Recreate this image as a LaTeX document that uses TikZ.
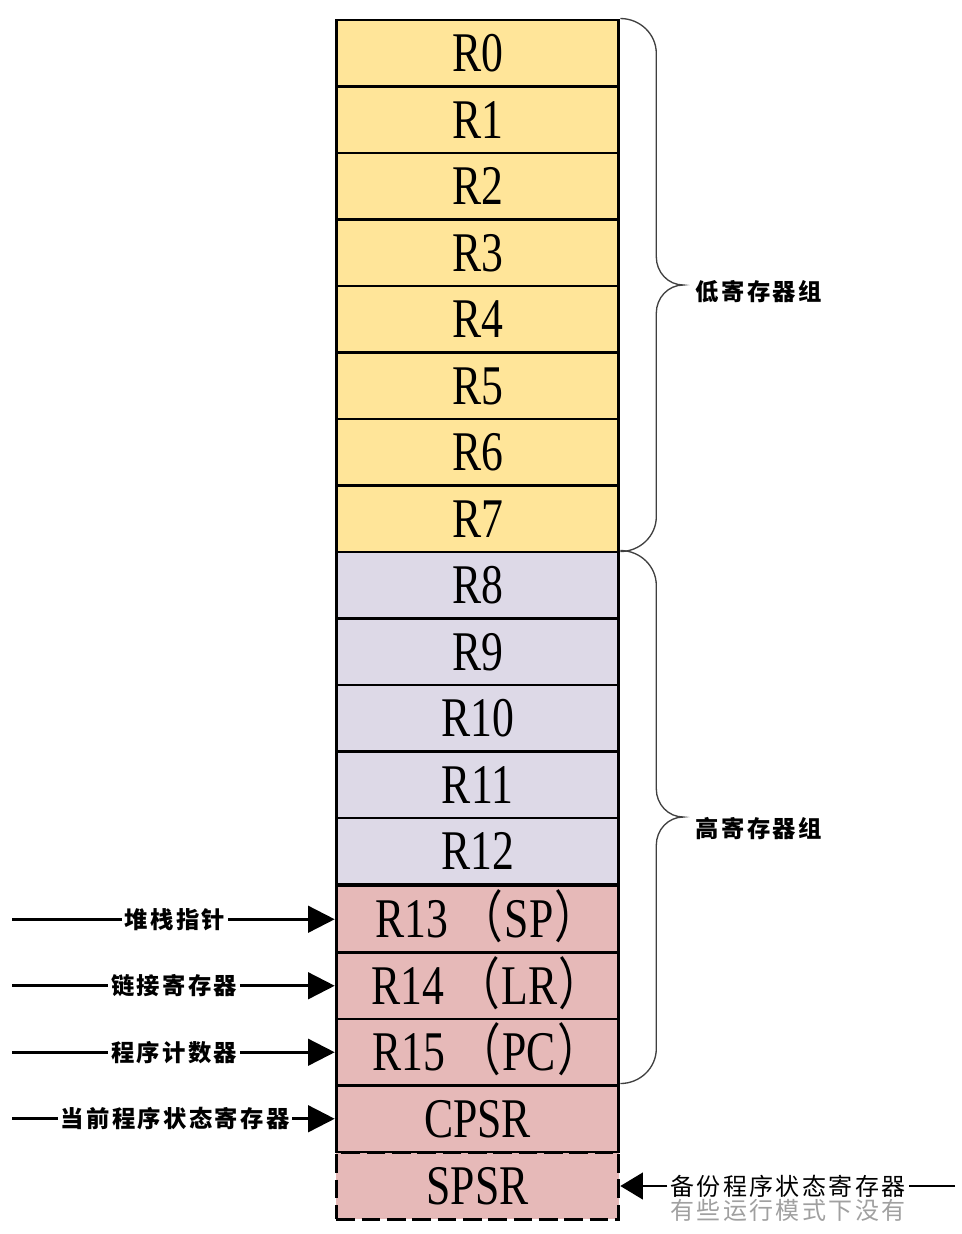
\documentclass[tikz,border=0pt]{standalone}
\usepackage{fontspec}
\usetikzlibrary{positioning,arrows.meta}
\newfontfamily\regfont{Liberation Serif}[FakeStretch=0.78]
\newfontfamily\regcjk{Noto Sans CJK SC}[FakeStretch=0.78]
\newfontfamily\cjk{Noto Sans CJK SC}[LetterSpace=10]
\definecolor{lowreg}{RGB}{255,229,153}
\definecolor{highreg}{RGB}{221,217,231}
\definecolor{spreg}{RGB}{230,185,184}
\definecolor{bracegray}{RGB}{64,64,64}
\definecolor{notegray}{RGB}{160,160,160}
\newcommand{\regname}[2]{#1\kern9pt{\regcjk （}\kern1pt#2\kern1pt{\regcjk ）}\kern-14pt}
\tikzset{
    reg/.style={draw=black, line width=2.2pt, minimum width=212pt, minimum height=49.9pt,
        inner sep=0pt, text height=27.8pt, text depth=0pt,
        font=\regfont\fontsize{42}{42}\selectfont},
    note/.style={inner sep=2pt, font=\cjk\bfseries\fontsize{17.5}{17.5}\selectfont},
    plainnote/.style={inner sep=2pt, font=\cjk\fontsize{18}{18}\selectfont},
    ptr/.style={line width=1.9pt},
    regbrace/.pic={
		\draw[bracegray, line width=1pt] (0,0) to[out=0,in=90] (36,35) -- (36,238.5)
			to[out=-90,in=180] (63,266.5) to[out=180,in=90] (36,294.5) -- (36,498)
			to[out=-90,in=0] (0,533);
	}
}
\begin{document}
\begin{tikzpicture}[x=0.75pt, y=-0.75pt]
        \useasboundingbox (0,0) rectangle (962,1234);
        % register file
        \foreach \i in {0,...,7}
            \node[reg, fill=lowreg] (r\i) at (477.5,{20+66.5*(\i+0.5)}) {R\i};
        \foreach \i in {8,...,12}
            \node[reg, fill=highreg] (r\i) at (477.5,{20+66.5*(\i+0.5)}) {R\i};
        \node[reg, fill=spreg] (r13) at (477.5,919.25) {\regname{R13}{SP}};
        \node[reg, fill=spreg] (r14) at (477.5,985.75) {\regname{R14}{LR}};
        \node[reg, fill=spreg] (r15) at (477.5,1052.25) {\regname{R15}{PC}};
        \node[reg, fill=spreg] (cpsr) at (477.5,1118.75) {CPSR};
        \node[reg, fill=spreg, dash pattern=on 14pt off 5pt] (spsr) at (477.5,1186) {SPSR};
        % groups
        \pic at (r0.north east) {regbrace};
        \pic at (r8.north east) {regbrace};
        \node[note, anchor=west] (lowgrp) at (693,292) {低寄存器组};
        \node[note, anchor=west] (highgrp) at (693,829) {高寄存器组};
        % pointers on the left
        \coordinate (sp-in) at (12,0 |- r13);
        \node[note] (sp) at (175,0 |- r13) {堆栈指针};
        \draw[ptr] (sp-in) -- (sp);
        \draw[ptr, -{Triangle[length=20pt,width=20pt]}] (sp) -- (r13.west);
        \coordinate (lr-in) at (12,0 |- r14);
        \node[note] (lr) at (174,0 |- r14) {链接寄存器};
        \draw[ptr] (lr-in) -- (lr);
        \draw[ptr, -{Triangle[length=20pt,width=20pt]}] (lr) -- (r14.west);
        \coordinate (pc-in) at (12,0 |- r15);
        \node[note] (pc) at (174,0 |- r15) {程序计数器};
        \draw[ptr] (pc-in) -- (pc);
        \draw[ptr, -{Triangle[length=20pt,width=20pt]}] (pc) -- (r15.west);
        \coordinate (cpsr-in) at (12,0 |- cpsr);
        \node[note] (cur) at (175,0 |- cpsr) {当前程序状态寄存器};
        \draw[ptr] (cpsr-in) -- (cur);
        \draw[ptr, -{Triangle[length=20pt,width=20pt]}] (cur) -- (cpsr.west);
        % saved status on the right
        \coordinate (spsr-in) at (955,0 |- spsr);
        \node[plainnote] (bak) at (788,0 |- spsr) {备份程序状态寄存器};
        \draw[ptr] (spsr-in) -- (bak);
        \draw[ptr, -{Triangle[length=17pt,width=20pt]}] (bak) -- (spsr.east);
        \node[plainnote, text=notegray, below=-3pt of bak] (bak-note) {有些运行模式下没有};
\end{tikzpicture}
\end{document}
